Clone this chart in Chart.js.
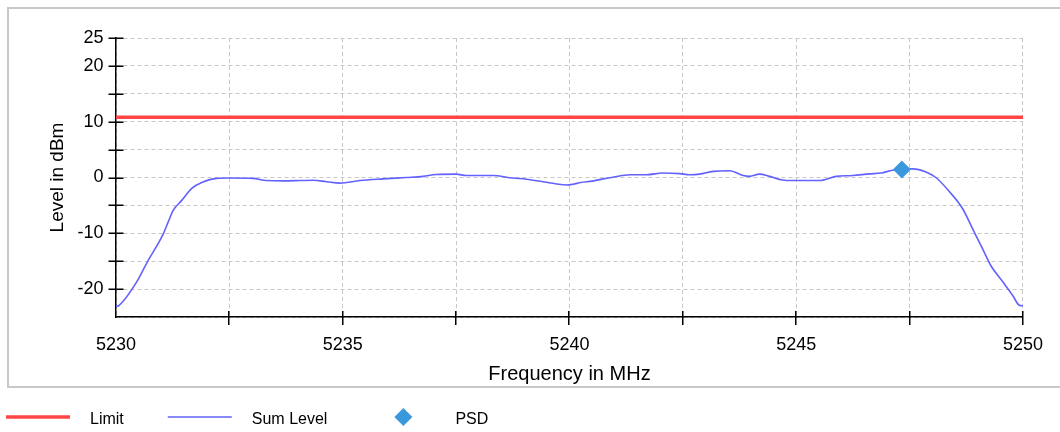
<!DOCTYPE html>
<html>
<head>
<meta charset="utf-8">
<script src="https://cdn.jsdelivr.net/npm/chart.js@4.4.1/dist/chart.umd.min.js"></script>
<style>
html, body { margin: 0; padding: 0; background: #ffffff; }
canvas { display: block; }
</style>
</head>
<body>
<canvas id="chart" width="1060" height="432"></canvas>
<script>
// Measured spectrum: frequency (MHz) and summed level (dBm)
const frequency = [
  5230.00, 5230.07, 5230.46, 5230.68, 5231.04, 5231.15, 5231.26, 5231.45, 5231.67, 5231.89,
  5232.22, 5232.50, 5233.02, 5233.31, 5233.70, 5234.06, 5234.35, 5234.64, 5234.94, 5235.38,
  5235.89, 5236.40, 5236.77, 5237.06, 5237.50, 5237.73, 5238.30, 5238.75, 5239.05, 5239.49,
  5239.93, 5240.08, 5240.25, 5240.50, 5240.74, 5240.96, 5241.33, 5241.70, 5242.06, 5242.43,
  5242.65, 5242.87, 5243.17, 5243.53, 5243.83, 5243.97, 5244.19, 5244.41, 5244.70, 5244.93,
  5245.50, 5245.88, 5246.25, 5246.61, 5246.87, 5247.12, 5247.33, 5247.57, 5247.86, 5248.08,
  5248.38, 5248.67, 5248.89, 5249.11, 5249.30, 5249.55, 5249.77, 5249.92, 5250.00
];
const sumLevel = [
  -23.1, -22.9, -18.65, -15.3, -10.15, -8.0, -5.9, -4.1, -1.95, -0.9,
  -0.15, -0.1, -0.15, -0.55, -0.6, -0.55, -0.5, -0.75, -1.0, -0.55,
  -0.25, 0.0, 0.2, 0.55, 0.6, 0.35, 0.35, -0.1, -0.3, -0.85,
  -1.35, -1.2, -0.9, -0.65, -0.25, 0.05, 0.5, 0.5, 0.8, 0.7,
  0.5, 0.6, 1.1, 1.2, 0.35, 0.2, 0.6, 0.2, -0.45, -0.55,
  -0.55, 0.2, 0.35, 0.65, 0.8, 1.3, 1.45, 1.55, 1.0, 0.0,
  -2.55, -5.6, -9.2, -12.8, -15.9, -18.65, -21.1, -22.9, -23.0
];

// Limit line and power spectral density marker
const limitFrequency = [5230, 5250];
const limitLevel = [10.8, 10.8];
const psdFrequency = [5247.33];
const psdLevel = [1.45];

// Labelled tick values (ticks without a label are drawn unlabelled)
const xTickLabels = [5230, 5235, 5240, 5245, 5250];
const yTickLabels = [25, 20, 10, 0, -10, -20];

const seriesNames = ['Limit', 'Sum Level', 'PSD'];
const axisTitles = ['Frequency in MHz', 'Level in dBm'];

const FONT = '"Liberation Sans", Arial, Helvetica, sans-serif';
const TEXT = '#000000';
const COLORS = { limit: '#ff4545', sum: '#6262ff', psd: '#3a98dc' };

const toPoints = (xs, ys) => xs.map((x, i) => ({ x: x, y: ys[i] }));
const hasLabel = (list, v) => list.some(t => Math.abs(t - v) < 1e-6);

// Gray frame around the plot and axis titles
const framePlugin = {
  id: 'frame',
  beforeDraw(chart) {
    const ctx = chart.ctx;
    ctx.save();
    ctx.fillStyle = '#ffffff';
    ctx.fillRect(0, 0, chart.width, chart.height);
    ctx.strokeStyle = '#c8c8c8';
    ctx.lineWidth = 2;
    ctx.beginPath();
    ctx.moveTo(chart.width + 4, 8);
    ctx.lineTo(8, 8);
    ctx.lineTo(8, 387);
    ctx.lineTo(chart.width + 4, 387);
    ctx.stroke();
    ctx.restore();
  }
};

// Tick marks that cross the axis lines
const crossTickPlugin = {
  id: 'crossTicks',
  afterDraw(chart) {
    const ctx = chart.ctx;
    const area = chart.chartArea;
    const xs = chart.scales.x;
    const ys = chart.scales.y;
    ctx.save();
    ctx.strokeStyle = '#000000';
    ctx.lineWidth = 1.5;
    ctx.beginPath();
    ys.ticks.forEach(t => {
      if (t.value <= ys.min) return;
      const py = Math.round(ys.getPixelForValue(t.value)) + 0.25;
      ctx.moveTo(area.left - 7.5, py);
      ctx.lineTo(area.left + 7.5, py);
    });
    xs.ticks.forEach(t => {
      if (t.value <= xs.min) return;
      const px = Math.round(xs.getPixelForValue(t.value)) - 0.25;
      ctx.moveTo(px, area.bottom - 6);
      ctx.lineTo(px, area.bottom + 8);
    });
    ctx.stroke();
    ctx.restore();
  }
};

// Legend row below the frame
const legendRowPlugin = {
  id: 'legendRow',
  afterDraw(chart) {
    const ctx = chart.ctx;
    const y = 417;
    const sample = 64;
    const gap = 20;
    const spacing = 44;
    let x = 6;
    ctx.save();
    ctx.font = '16px ' + FONT;
    ctx.textBaseline = 'middle';
    seriesNames.forEach(name => {
      const ds = chart.data.datasets.find(d => d.label === name);
      if (ds.showLine === false) {
        const cx = x + sample / 2;
        const r = 9;
        ctx.fillStyle = ds.backgroundColor;
        ctx.beginPath();
        ctx.moveTo(cx - r, y);
        ctx.lineTo(cx, y - r);
        ctx.lineTo(cx + r, y);
        ctx.lineTo(cx, y + r);
        ctx.closePath();
        ctx.fill();
      } else {
        ctx.strokeStyle = ds.borderColor;
        ctx.lineWidth = ds.borderWidth;
        ctx.beginPath();
        ctx.moveTo(x, y);
        ctx.lineTo(x + sample, y);
        ctx.stroke();
      }
      ctx.fillStyle = TEXT;
      const tx = x + sample + gap;
      ctx.fillText(name, tx, y + 3);
      x = tx + ctx.measureText(name).width + spacing;
    });
    ctx.restore();
  }
};

new Chart(document.getElementById('chart'), {
  type: 'line',
  data: {
    datasets: [
      {
        label: seriesNames[2],
        data: toPoints(psdFrequency, psdLevel),
        showLine: false,
        pointStyle: 'rectRot',
        pointRadius: 9,
        pointBorderWidth: 0,
        backgroundColor: COLORS.psd,
        borderColor: COLORS.psd,
        order: 0
      },
      {
        label: seriesNames[0],
        data: toPoints(limitFrequency, limitLevel),
        borderColor: COLORS.limit,
        backgroundColor: COLORS.limit,
        borderWidth: 3.5,
        pointRadius: 0,
        order: 1
      },
      {
        label: seriesNames[1],
        data: toPoints(frequency, sumLevel),
        borderColor: COLORS.sum,
        backgroundColor: COLORS.sum,
        borderWidth: 1.6,
        pointRadius: 0,
        cubicInterpolationMode: 'monotone',
        order: 2
      }
    ]
  },
  options: {
    responsive: false,
    animation: false,
    events: [],
    layout: { padding: { left: 8, top: 38, right: 36, bottom: 45 } },
    plugins: {
      legend: { display: false },
      tooltip: { enabled: false }
    },
    scales: {
      x: {
        type: 'linear',
        min: 5230,
        max: 5250,
        afterFit(scale) { scale.height = 70; },
        afterBuildTicks(scale) {
          const out = [];
          for (let v = scale.min; v <= scale.max + 1e-6; v += 2.5) out.push({ value: v });
          scale.ticks = out;
        },
        grid: { color: '#c8c8c8', lineWidth: 1, drawTicks: false },
        border: { display: true, color: '#000000', width: 1.5, dash: [4, 3] },
        ticks: {
          padding: 17,
          color: TEXT,
          font: { family: FONT, size: 18 },
          maxRotation: 0,
          autoSkip: false,
          callback: v => hasLabel(xTickLabels, v) ? String(Math.round(v)) : ''
        },
        title: {
          display: true,
          text: axisTitles[0],
          color: TEXT,
          font: { family: FONT, size: 20 },
          padding: { top: 0, bottom: 1 }
        }
      },
      y: {
        min: -25,
        max: 25,
        afterFit(scale) { scale.width = 108; },
        afterBuildTicks(scale) {
          const out = [];
          for (let v = scale.min; v <= scale.max + 1e-6; v += 5) out.push({ value: v });
          scale.ticks = out;
        },
        grid: { color: '#c8c8c8', lineWidth: 1, drawTicks: false },
        border: { display: true, color: '#000000', width: 1.5, dash: [4, 3] },
        ticks: {
          padding: 12.5,
          color: TEXT,
          font: { family: FONT, size: 18 },
          autoSkip: false,
          callback: v => hasLabel(yTickLabels, v) ? String(v) : ''
        },
        title: {
          display: true,
          text: axisTitles[1],
          color: TEXT,
          font: { family: FONT, size: 19 },
          padding: { top: 38.6, bottom: 0 }
        }
      }
    }
  },
  plugins: [framePlugin, crossTickPlugin, legendRowPlugin]
});
</script>
</body>
</html>
